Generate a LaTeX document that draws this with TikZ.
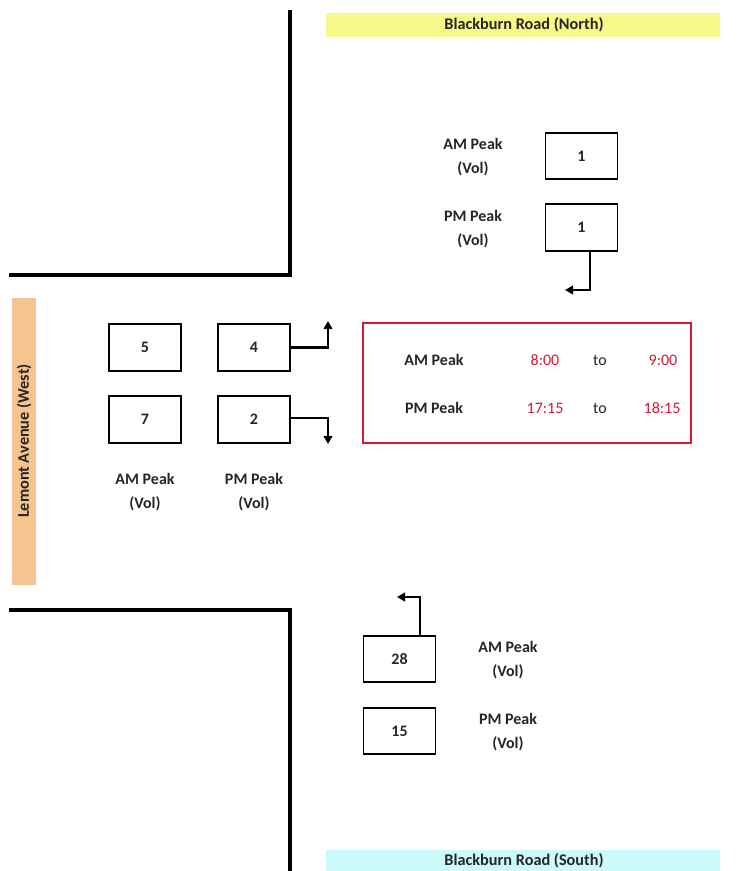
\documentclass[tikz,border=0pt]{standalone}
\usepackage{fontspec}
\setmainfont{Carlito}
\usetikzlibrary{arrows.meta}
\definecolor{roadyellow}{HTML}{F7F78A}
\definecolor{roadcyan}{HTML}{CCFAFA}
\definecolor{roadorange}{HTML}{F6C48E}
\definecolor{peakred}{HTML}{D01838}
\definecolor{txt}{HTML}{262626}
\tikzset{
  volbox/.style={draw, line width=1.4pt, minimum width=54pt, minimum height=35pt, inner sep=0pt, font=\bfseries\fontsize{12}{14}\selectfont, text=txt},
  lbl/.style={align=center, font=\bfseries\fontsize{12}{18}\selectfont, text=txt, inner sep=0pt},
  kerb/.style={line width=2.4pt, line cap=rect},
  turn/.style={line width=2.2pt, -{Triangle[length=6pt,width=6.5pt]}},
  roadlbl/.style={font=\bfseries\fontsize{12.2}{14}\selectfont, text=txt},
  timelbl/.style={font=\fontsize{12}{14}\selectfont, text=peakred, inner sep=0pt},
  tolbl/.style={font=\fontsize{12}{14}\selectfont, text=txt, inner sep=0pt},
}
\begin{document}
\begin{tikzpicture}[x=0.75pt, y=-0.75pt]
\useasboundingbox (0,0) rectangle (743,871);
% roads
\fill[roadyellow] (326,13) rectangle (720,37);
\node[roadlbl] (north) at (524,25) {Blackburn Road (North)};
\fill[roadcyan] (326,850) rectangle (720,871);
\node[roadlbl] (south) at (524,861) {Blackburn Road (South)};
\fill[roadorange] (12,298) rectangle (36,585);
\node[roadlbl, rotate=90] (west) at (24,441) {Lemont Avenue (West)};
% kerbs
\draw[kerb] (290,12) -- (290,275) -- (11,275);
\draw[kerb] (11,610) -- (290,610) -- (290,871);
% north approach
\node[volbox] (n1) at (581.5,156) {1};
\node[volbox] (n2) at (581.5,227.5) {1};
\node[lbl] (nam) at (473,157) {AM Peak\\(Vol)};
\node[lbl] (npm) at (473,229) {PM Peak\\(Vol)};
\coordinate (nend) at (565,290);
\draw[turn] (n2.south -| 590,0) -- (590,290) -- (nend);
% west approach
\node[volbox] (w5) at (145,347.5) {5};
\node[volbox] (w4) at (254,347.5) {4};
\node[volbox] (w7) at (145,419.5) {7};
\node[volbox] (w2) at (254,419.5) {2};
\node[lbl] (wam) at (145,492) {AM Peak\\(Vol)};
\node[lbl] (wpm) at (254,492) {PM Peak\\(Vol)};
\coordinate (w4end) at (328,321);
\coordinate (w2end) at (328,444);
\draw[turn] (w4.east) -- (328,347.5) -- (w4end);
\draw[turn] (w2.east |- 0,418) -- (328,418) -- (w2end);
% south approach
\node[volbox] (s28) at (399.5,659) {28};
\node[volbox] (s15) at (399.5,731) {15};
\node[lbl] (sam) at (508,660) {AM Peak\\(Vol)};
\node[lbl] (spm) at (508,732) {PM Peak\\(Vol)};
\coordinate (send) at (397,597);
\draw[turn] (s28.north -| 420,0) -- (420,597) -- (send);
% peak periods
\node[draw=peakred, line width=1pt, minimum width=246pt, minimum height=90pt, inner sep=0pt] (period) at (527,383) {};
\node[lbl] (pam) at (434,360) {AM Peak};
\node[lbl] (ppm) at (434,408) {PM Peak};
\node[timelbl] (t1) at (545,360) {8:00};
\node[tolbl] (to1) at (600,360) {to};
\node[timelbl] (t2) at (663,360) {9:00};
\node[timelbl] (t3) at (545,408) {17:15};
\node[tolbl] (to2) at (600,408) {to};
\node[timelbl] (t4) at (662,408) {18:15};
\end{tikzpicture}
\end{document}
